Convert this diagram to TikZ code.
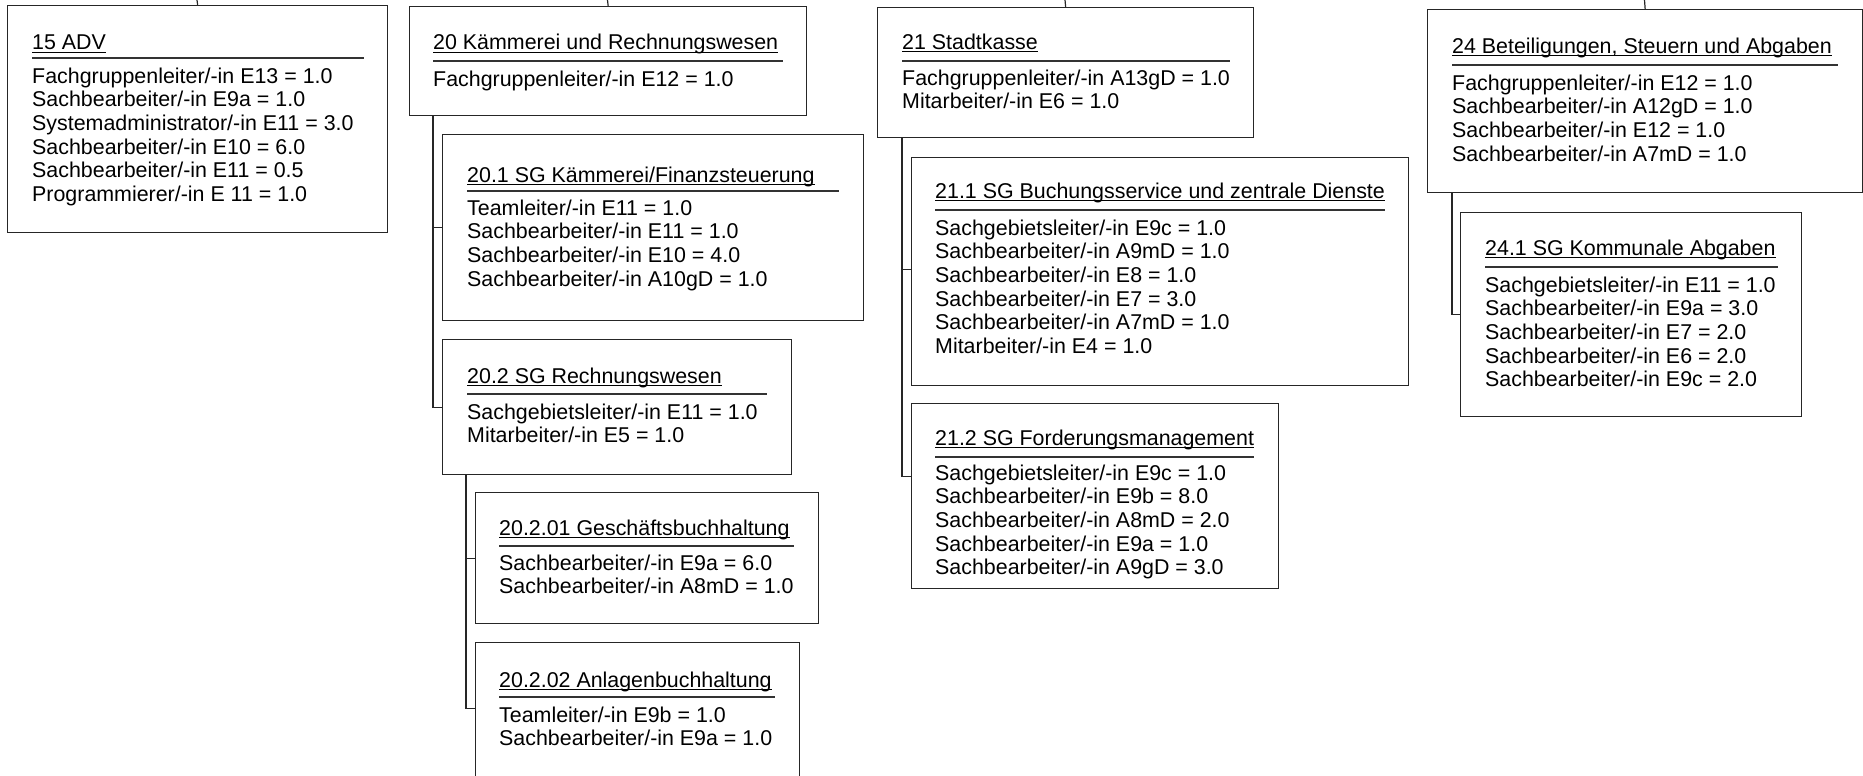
\documentclass[tikz,border=0pt]{standalone}
\usepackage{fontspec}
\setmainfont{Liberation Sans}
\begin{document}
\begin{tikzpicture}[x=1pt,y=-1pt,
  box/.style={draw=black!85, line width=1.3pt, inner sep=0pt, anchor=north west, fill=white},
  ttl/.style={anchor=base west, inner sep=0pt, font=\fontsize{21.4}{23.7}\selectfont},
  body/.style={anchor=base west, inner sep=0pt, font=\fontsize{21.4}{23.7}\selectfont},
  sepline/.style={line width=1.3pt, draw=black!80},
  ulline/.style={line width=1.2pt, draw=black},
  conn/.style={line width=1.2pt, draw=black!85}]
\useasboundingbox (0,0) rectangle (1863,776);
\clip (0,0) rectangle (1863,776);

% ---------- boxes ----------
\node[box, minimum width=380pt, minimum height=227pt] (b15) at (7,5) {};
\node[box, minimum width=397pt, minimum height=109pt] (b20) at (409,6) {};
\node[box, minimum width=421pt, minimum height=186pt] (b201) at (442,134) {};
\node[box, minimum width=349pt, minimum height=135pt] (b202) at (442,339) {};
\node[box, minimum width=343pt, minimum height=131pt] (b2021) at (475,492) {};
\node[box, minimum width=324pt, minimum height=150pt] (b2022) at (475,642) {};
\node[box, minimum width=376pt, minimum height=130pt] (b21) at (877,7) {};
\node[box, minimum width=497pt, minimum height=228pt] (b211) at (911,157) {};
\node[box, minimum width=367pt, minimum height=185pt] (b212) at (911,403) {};
\node[box, minimum width=435pt, minimum height=183pt] (b24) at (1427,9) {};
\node[box, minimum width=341pt, minimum height=204pt] (b241) at (1460,212) {};

% ---------- titles ----------
\node[ttl] (t15) at (32,50) {15 ADV};
\node[ttl] (t20) at (433,50) {20 Kämmerei und Rechnungswesen};
\node[ttl] (t201) at (467,182) {20.1 SG Kämmerei/Finanzsteuerung};
\node[ttl] (t202) at (467,383) {20.2 SG Rechnungswesen};
\node[ttl] (t2021) at (499,535) {20.2.01 Geschäftsbuchhaltung};
\node[ttl] (t2022) at (499,687) {20.2.02 Anlagenbuchhaltung};
\node[ttl] (t21) at (902,49) {21 Stadtkasse};
\node[ttl] (t211) at (935,198) {21.1 SG Buchungsservice und zentrale Dienste};
\node[ttl] (t212) at (935,445) {21.2 SG Forderungsmanagement};
\node[ttl] (t24) at (1452,53) {24 Beteiligungen, Steuern und Abgaben};
\node[ttl] (t241) at (1485,255) {24.1 SG Kommunale Abgaben};

\foreach \t in {t15,t20,t201,t202,t2021,t2022,t21,t211,t212,t24,t241}
  \draw[ulline] ([yshift=-2.5pt]\t.base west) -- ([yshift=-2.5pt]\t.base east);

% ---------- separators ----------
\draw[sepline] (32,58) -- (364,58);
\draw[sepline] (433,61) -- (783,61);
\draw[sepline] (467,191) -- (839,191);
\draw[sepline] (467,394) -- (767,394);
\draw[sepline] (499,546) -- (794,546);
\draw[sepline] (499,697) -- (775,697);
\draw[sepline] (902,61) -- (1230,61);
\draw[sepline] (935,210) -- (1385,210);
\draw[sepline] (935,457) -- (1254,457);
\draw[sepline] (1452,65) -- (1838,65);
\draw[sepline] (1485,267) -- (1778,267);

% ---------- bodies ----------
\node[body] (l15) at (32,83) {\begin{tabular}[t]{@{}l@{}}
Fachgruppenleiter/-in E13 = 1.0\\
Sachbearbeiter/-in E9a = 1.0\\
Systemadministrator/-in E11 = 3.0\\
Sachbearbeiter/-in E10 = 6.0\\
Sachbearbeiter/-in E11 = 0.5\\
Programmierer/-in E 11 = 1.0\end{tabular}};
\node[body] (l20) at (433,86) {\begin{tabular}[t]{@{}l@{}}
Fachgruppenleiter/-in E12 = 1.0\end{tabular}};
\node[body] (l201) at (467,215) {\begin{tabular}[t]{@{}l@{}}
Teamleiter/-in E11 = 1.0\\
Sachbearbeiter/-in E11 = 1.0\\
Sachbearbeiter/-in E10 = 4.0\\
Sachbearbeiter/-in A10gD = 1.0\end{tabular}};
\node[body] (l202) at (467,419) {\begin{tabular}[t]{@{}l@{}}
Sachgebietsleiter/-in E11 = 1.0\\
Mitarbeiter/-in E5 = 1.0\end{tabular}};
\node[body] (l2021) at (499,570) {\begin{tabular}[t]{@{}l@{}}
Sachbearbeiter/-in E9a = 6.0\\
Sachbearbeiter/-in A8mD = 1.0\end{tabular}};
\node[body] (l2022) at (499,722) {\begin{tabular}[t]{@{}l@{}}
Teamleiter/-in E9b = 1.0\\
Sachbearbeiter/-in E9a = 1.0\end{tabular}};
\node[body] (l21) at (902,85) {\begin{tabular}[t]{@{}l@{}}
Fachgruppenleiter/-in A13gD = 1.0\\
Mitarbeiter/-in E6 = 1.0\end{tabular}};
\node[body] (l211) at (935,235) {\begin{tabular}[t]{@{}l@{}}
Sachgebietsleiter/-in E9c = 1.0\\
Sachbearbeiter/-in A9mD = 1.0\\
Sachbearbeiter/-in E8 = 1.0\\
Sachbearbeiter/-in E7 = 3.0\\
Sachbearbeiter/-in A7mD = 1.0\\
Mitarbeiter/-in E4 = 1.0\end{tabular}};
\node[body] (l212) at (935,480) {\begin{tabular}[t]{@{}l@{}}
Sachgebietsleiter/-in E9c = 1.0\\
Sachbearbeiter/-in E9b = 8.0\\
Sachbearbeiter/-in A8mD = 2.0\\
Sachbearbeiter/-in E9a = 1.0\\
Sachbearbeiter/-in A9gD = 3.0\end{tabular}};
\node[body] (l24) at (1452,90) {\begin{tabular}[t]{@{}l@{}}
Fachgruppenleiter/-in E12 = 1.0\\
Sachbearbeiter/-in A12gD = 1.0\\
Sachbearbeiter/-in E12 = 1.0\\
Sachbearbeiter/-in A7mD = 1.0\end{tabular}};
\node[body] (l241) at (1485,292) {\begin{tabular}[t]{@{}l@{}}
Sachgebietsleiter/-in E11 = 1.0\\
Sachbearbeiter/-in E9a = 3.0\\
Sachbearbeiter/-in E7 = 2.0\\
Sachbearbeiter/-in E6 = 2.0\\
Sachbearbeiter/-in E9c = 2.0\end{tabular}};

% ---------- connectors ----------
\coordinate (top15) at (197,0);
\coordinate (top20) at (607.5,0);
\coordinate (top21) at (1065,0);
\coordinate (top24) at (1644.5,0);
\draw[conn] (top15) -- (b15.north);
\draw[conn] (top20) -- (b20.north);
\draw[conn] (top21) -- (b21.north);
\draw[conn] (top24) -- (b24.north);

\draw[conn] ([xshift=24pt]b20.south west) |- (b201.west);
\draw[conn] ([xshift=24pt]b20.south west) |- (b202.west);
\draw[conn] ([xshift=24pt]b202.south west) |- (b2021.west);
\draw[conn] ([xshift=24pt]b202.south west) |- ([yshift=9pt]b2022.west);
\draw[conn] ([xshift=25pt]b21.south west) |- ([yshift=2pt]b211.west);
\draw[conn] ([xshift=25pt]b21.south west) |- ([yshift=19.5pt]b212.west);
\draw[conn] ([xshift=25pt]b24.south west) |- (b241.west);
\end{tikzpicture}
\end{document}
